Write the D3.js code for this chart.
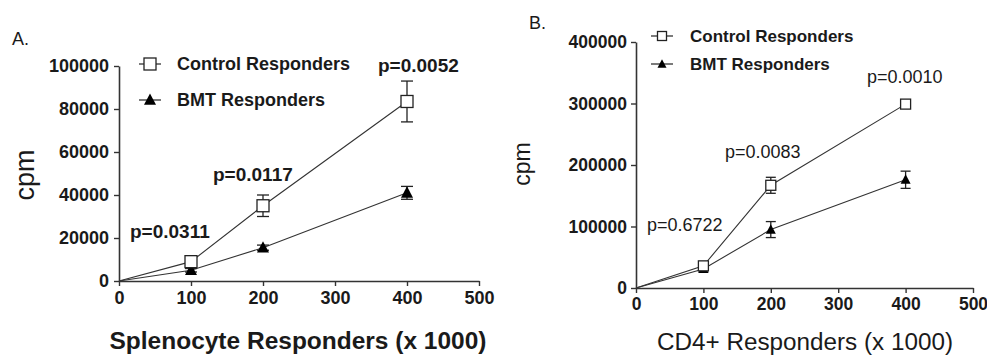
<!DOCTYPE html>
<html>
<head>
<meta charset="utf-8">
<script src="https://cdn.jsdelivr.net/npm/d3@7"></script>
<style>
  body { margin: 0; background: #fff; }
  svg { display: block; }
  text { font-family: "Liberation Sans", Arial, sans-serif; fill: #1a1a1a; }
</style>
</head>
<body>
<svg id="chart" width="987" height="356"></svg>
<script>
// ---------------- DATA ----------------
const cellsX = [0, 100, 200, 400];
const xTicks = [0, 100, 200, 300, 400, 500];

// Panel A: Splenocyte responders
const ctrlA = [0, 9000, 35000, 83500];
const ctrlAErr = [0, 1500, 5000, 9500];
const bmtA = [0, 5000, 15500, 41000];
const bmtAErr = [0, 800, 1200, 3000];
const yTicksA = [0, 20000, 40000, 60000, 80000, 100000];
const pLabelsA = ["p=0.0311", "p=0.0117", "p=0.0052"];

// Panel B: CD4+ responders
const ctrlB = [0, 36000, 167000, 299000];
const ctrlBErr = [0, 4000, 13000, 5000];
const bmtB = [0, 31000, 95000, 176000];
const bmtBErr = [0, 5000, 13000, 14000];
const yTicksB = [0, 100000, 200000, 300000, 400000];
const pLabelsB = ["p=0.6722", "p=0.0083", "p=0.0010"];

const seriesNames = ["Control Responders", "BMT Responders"];
const xTitles = ["Splenocyte Responders (x 1000)", "CD4+ Responders (x 1000)"];
const yTitle = "cpm";
const panelLetters = ["A.", "B."];

// ---------------- DRAW ----------------
const svg = d3.select("#chart");
const axisColor = "#333";
const lineColor = "#333";

function panel(cfg) {
  const g = svg.append("g");
  const x = d3.scaleLinear().domain([0, 500]).range(cfg.xr);
  const y = d3.scaleLinear().domain(cfg.yd).range(cfg.yr);

  // axes
  const xAxis = d3.axisBottom(x).tickValues(xTicks).tickSize(5).tickSizeOuter(0).tickPadding(5);
  const gx = g.append("g").attr("transform", `translate(0,${cfg.yr[0]})`).call(xAxis);
  gx.select(".domain").attr("stroke", axisColor).attr("stroke-width", 1.6);
  gx.selectAll(".tick line").attr("stroke", axisColor).attr("stroke-width", 1.4);
  gx.selectAll(".tick text").attr("font-size", cfg.tickFs).attr("font-weight", cfg.tickW)
    .attr("fill", "#1a1a1a").style("font-family", "Liberation Sans, Arial, sans-serif");

  const yAxis = d3.axisLeft(y).tickValues(cfg.yTicks).tickSize(5).tickSizeOuter(0).tickPadding(cfg.yPad)
    .tickFormat(d3.format("d"));
  const gy = g.append("g").attr("transform", `translate(${cfg.xr[0]},0)`).call(yAxis);
  gy.select(".domain").attr("stroke", axisColor).attr("stroke-width", 1.6);
  gy.selectAll(".tick line").attr("stroke", axisColor).attr("stroke-width", 1.4);
  gy.selectAll(".tick text").attr("font-size", cfg.tickFs).attr("font-weight", cfg.tickW)
    .attr("fill", "#1a1a1a").style("font-family", "Liberation Sans, Arial, sans-serif");

  const line = d3.line().x((d, i) => x(cellsX[i])).y(d => y(d));

  const drawSeries = (vals, errs, kind) => {
    g.append("path").datum(vals).attr("d", line).attr("fill", "none")
      .attr("stroke", lineColor).attr("stroke-width", 1.1);
    const cw = cfg.cap / 2;
    vals.forEach((v, i) => {
      if (i === 0) return;
      const cx = x(cellsX[i]);
      const e = errs[i];
      if (e > 0) {
        g.append("line").attr("x1", cx).attr("x2", cx).attr("y1", y(v + e)).attr("y2", y(v - e))
          .attr("stroke", "#222").attr("stroke-width", 1.3);
        [v + e, v - e].forEach(t => g.append("line").attr("x1", cx - cw).attr("x2", cx + cw)
          .attr("y1", y(t)).attr("y2", y(t)).attr("stroke", "#222").attr("stroke-width", 1.3));
      }
      marker(g, cx, y(v), kind, cfg.ms);
    });
  };
  drawSeries(cfg.bmt, cfg.bmtErr, "tri");
  drawSeries(cfg.ctrl, cfg.ctrlErr, "sq");

  // legend
  cfg.legend.forEach((L, i) => {
    g.append("line").attr("x1", L.x - 11).attr("x2", L.x + 11).attr("y1", L.y).attr("y2", L.y)
      .attr("stroke", "#222").attr("stroke-width", 1.2);
    marker(g, L.x, L.y, i === 0 ? "sq" : "tri", cfg.lms);
    g.append("text").attr("x", L.tx).attr("y", L.y).attr("dy", "0.35em")
      .attr("font-size", cfg.legFs).attr("font-weight", "bold").text(seriesNames[i]);
  });

  // p-values
  cfg.pLabels.forEach((p, i) => {
    const P = cfg.pPos[i];
    g.append("text").attr("x", P.x).attr("y", P.y).attr("dy", "0.35em")
      .attr("font-size", cfg.pFs).attr("font-weight", cfg.pW).text(p);
  });

  // titles
  g.append("text").attr("x", cfg.xTitle.x).attr("y", cfg.xTitle.y).attr("dy", "0.35em")
    .attr("text-anchor", "middle").attr("font-size", cfg.xTitle.fs).attr("font-weight", cfg.xTitle.w)
    .attr("textLength", cfg.xTitle.len).attr("lengthAdjust", "spacingAndGlyphs")
    .text(cfg.xTitle.text);
  g.append("text").attr("transform", `translate(${cfg.yTitle.x},${cfg.yTitle.y}) rotate(-90)`)
    .attr("text-anchor", "middle").attr("dy", "0.35em").attr("font-size", cfg.yTitle.fs)
    .text(yTitle);
  g.append("text").attr("x", cfg.letter.x).attr("y", cfg.letter.y).attr("dy", "0.35em")
    .attr("font-size", 18).text(cfg.letter.text);
}

function marker(g, cx, cy, kind, s) {
  if (kind === "sq") {
    g.append("rect").attr("x", cx - s / 2).attr("y", cy - s / 2).attr("width", s).attr("height", s)
      .attr("fill", "#fff").attr("stroke", "#222").attr("stroke-width", 1.3);
  } else {
    const h = s * 0.9;
    g.append("path")
      .attr("d", `M${cx},${cy - h * 0.6}L${cx + s / 2},${cy + h * 0.45}L${cx - s / 2},${cy + h * 0.45}Z`)
      .attr("fill", "#000");
  }
}

panel({
  xr: [119, 479], yd: [0, 100000], yr: [281, 66], yTicks: yTicksA, yPad: 5,
  tickFs: 18, tickW: "bold",
  ctrl: ctrlA, ctrlErr: ctrlAErr, bmt: bmtA, bmtErr: bmtAErr,
  ms: 12, lms: 12, cap: 12,
  legend: [{ x: 150, y: 64, tx: 177 }, { x: 150, y: 100, tx: 177 }],
  legFs: 18,
  pLabels: pLabelsA, pFs: 19, pW: "bold",
  pPos: [{ x: 130, y: 231 }, { x: 213, y: 174 }, { x: 378, y: 65 }],
  xTitle: { x: 298, y: 341, fs: 23, w: "bold", len: 377, text: xTitles[0] },
  yTitle: { x: 25, y: 175, fs: 27 },
  letter: { x: 12, y: 39, text: panelLetters[0] }
});

panel({
  xr: [636, 973], yd: [0, 400000], yr: [288, 42], yTicks: yTicksB, yPad: 4,
  tickFs: 17.5, tickW: "bold",
  ctrl: ctrlB, ctrlErr: ctrlBErr, bmt: bmtB, bmtErr: bmtBErr,
  ms: 10, lms: 9, cap: 10,
  legend: [{ x: 662, y: 36, tx: 690 }, { x: 662, y: 64, tx: 690 }],
  legFs: 17,
  pLabels: pLabelsB, pFs: 18, pW: "normal",
  pPos: [{ x: 647, y: 225 }, { x: 725, y: 152 }, { x: 867, y: 77 }],
  xTitle: { x: 805, y: 342, fs: 23, w: "normal", len: 296, text: xTitles[1] },
  yTitle: { x: 522, y: 164, fs: 23 },
  letter: { x: 529, y: 23, text: panelLetters[1] }
});
</script>
</body>
</html>
